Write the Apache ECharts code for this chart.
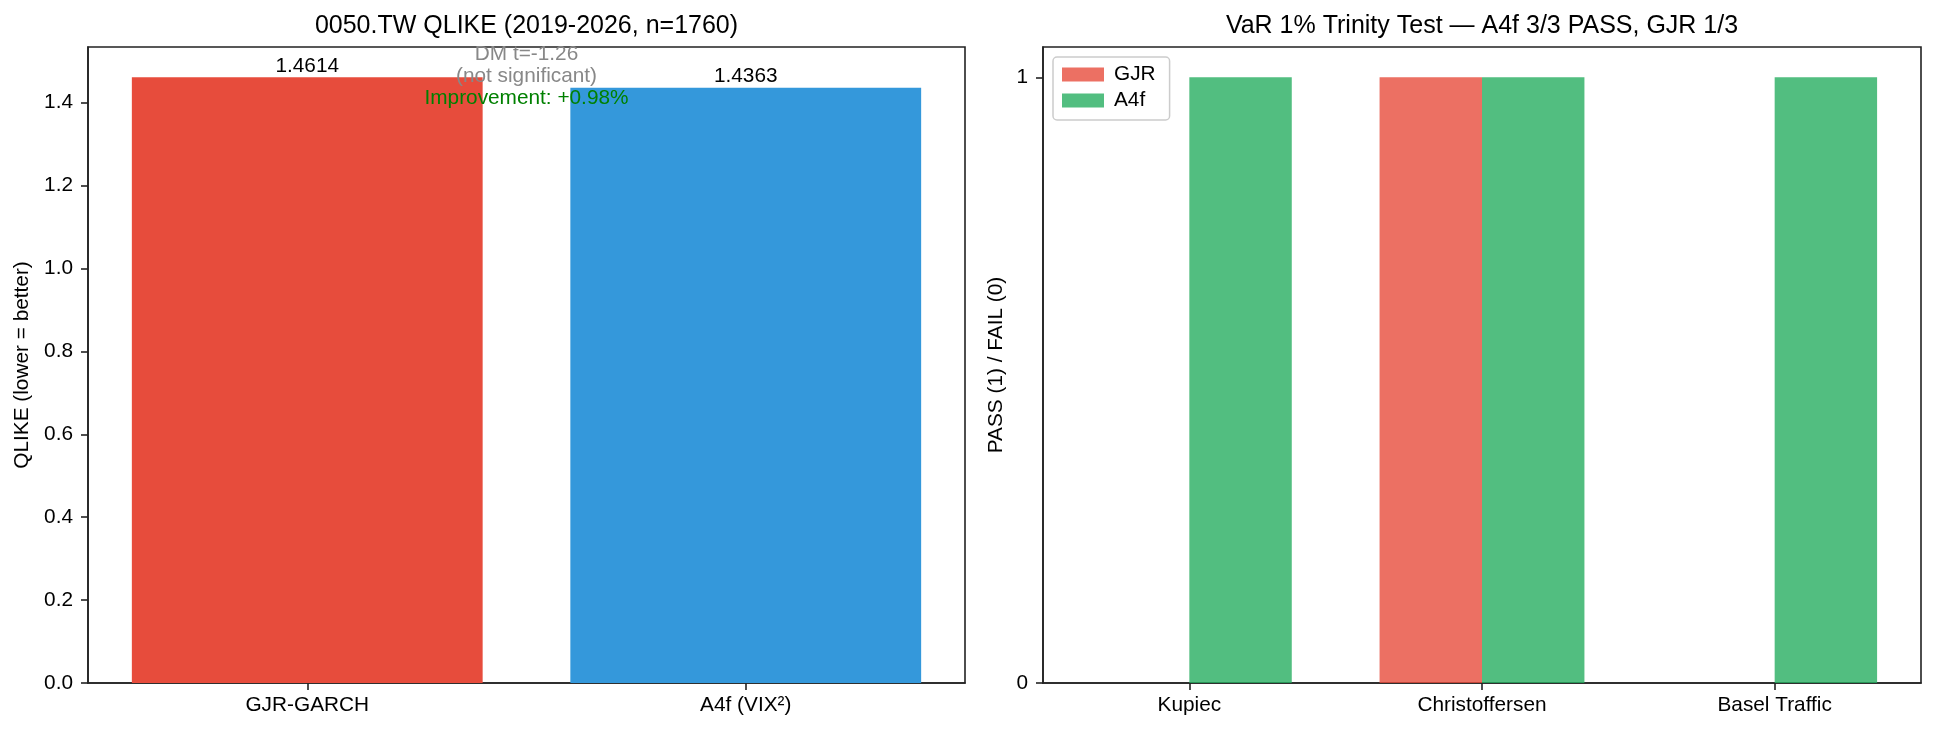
<!DOCTYPE html>
<html>
<head>
<meta charset="utf-8">
<script src="https://cdn.jsdelivr.net/npm/echarts@6/dist/echarts.min.js"></script>
<style>
  html, body { margin: 0; padding: 0; background: #fff; }
  #chart { width: 1933px; height: 733px; }
</style>
</head>
<body>
<div id="chart"></div>
<script>
// --- data ---
const qlikeModels = ['GJR-GARCH', 'A4f (VIX²)'];
const qlikeValues = [1.4614, 1.4363];
const qlikeColors = ['#e74c3c', '#3498db'];
const qlikeTicks  = [0, 0.2, 0.4, 0.6, 0.8, 1.0, 1.2, 1.4];
const qlikeMax    = 1.5345;

const varTests    = ['Kupiec', 'Christoffersen', 'Basel Traffic'];
const gjrPass     = [0, 1, 0];
const a4fPass     = [1, 1, 1];
const passTicks   = [0, 1];
const passMax     = 1.05;

// annotation lines (placed between the two QLIKE bars)
const dmNote      = 'DM t=-1.26\n(not significant)';
const dmNoteY     = 1.49;
const improveNote = 'Improvement: +0.98%';
const improveY    = 1.412;

const FONT = "'Liberation Sans', Arial, Helvetica, sans-serif";
const FS = 20.8;
const INK = '#222';

const chart = echarts.init(document.getElementById('chart'), null, { renderer: 'canvas' });

const grids = [
  { left: 88,   top: 47, width: 877, height: 636 },
  { left: 1043, top: 47, width: 878, height: 636 },
];

const axisLine  = { show: true, onZero: false, lineStyle: { color: INK, width: 1.6 } };
const axisTick  = { show: true, length: 7, lineStyle: { color: INK, width: 1.6 } };
const tickLabel = { color: '#000', fontSize: FS, fontFamily: FONT };

const catAxis = (gridIndex, data) => ({
  type: 'category',
  gridIndex,
  data,
  axisLine,
  axisTick: { ...axisTick, alignWithLabel: true },
  axisLabel: { ...tickLabel, margin: 12, interval: 0 },
  splitLine: { show: false },
});

const valAxis = (gridIndex, max, ticks, name, nameGap, fmt) => ({
  type: 'value',
  gridIndex,
  min: 0,
  max,
  name,
  nameLocation: 'middle',
  nameGap,
  nameTextStyle: { color: '#000', fontSize: FS, fontFamily: FONT },
  axisLine,
  axisTick: { ...axisTick, customValues: ticks },
  axisLabel: { ...tickLabel, margin: 15, customValues: ticks, formatter: fmt },
  splitLine: { show: false },
});

chart.setOption({
  animation: false,
  backgroundColor: '#fff',
  textStyle: { fontFamily: FONT },
  title: [
    {
      text: '0050.TW QLIKE (2019-2026, n=1760)',
      left: grids[0].left + grids[0].width / 2,
      top: 14,
      textAlign: 'center',
      padding: 0,
      textStyle: { color: '#000', fontSize: 25, fontWeight: 'normal', fontFamily: FONT },
    },
    {
      text: 'VaR 1% Trinity Test — A4f 3/3 PASS, GJR 1/3',
      left: grids[1].left + grids[1].width / 2,
      top: 14,
      textAlign: 'center',
      padding: 0,
      textStyle: { color: '#000', fontSize: 25, fontWeight: 'normal', fontFamily: FONT },
    },
  ],
  legend: {
    data: ['GJR', 'A4f'],
    orient: 'vertical',
    left: 1053,
    top: 57,
    padding: [7, 14, 9, 9],
    itemWidth: 42,
    itemHeight: 14,
    itemGap: 5,
    itemStyle: { borderWidth: 0 },
    icon: 'rect',
    borderColor: '#cccccc',
    borderWidth: 1.5,
    borderRadius: 4,
    backgroundColor: 'rgba(255,255,255,0.8)',
    textStyle: { color: '#000', fontSize: FS, fontFamily: FONT, padding: [0, 0, 0, 5] },
  },
  grid: grids.map(g => ({ ...g, show: true, borderColor: INK, borderWidth: 1.6, backgroundColor: 'transparent' })),
  xAxis: [catAxis(0, qlikeModels), catAxis(1, varTests)],
  yAxis: [
    valAxis(0, qlikeMax, qlikeTicks, 'QLIKE (lower = better)', 55, v => v.toFixed(1)),
    valAxis(1, passMax, passTicks, 'PASS (1) / FAIL (0)', 36, v => String(v)),
  ],
  series: [
    {
      type: 'bar',
      xAxisIndex: 0,
      yAxisIndex: 0,
      barWidth: '80%',
      data: qlikeValues.map((v, i) => ({ value: v, itemStyle: { color: qlikeColors[i] } })),
      label: {
        show: true,
        position: 'top',
        distance: 1,
        color: '#000',
        fontSize: FS,
        fontFamily: FONT,
        formatter: p => p.value.toFixed(4),
      },
      emphasis: { disabled: true },
    },
    {
      name: 'GJR',
      type: 'bar',
      xAxisIndex: 1,
      yAxisIndex: 1,
      barWidth: '35%',
      barGap: '0%',
      data: gjrPass,
      itemStyle: { color: 'rgba(231,76,60,0.8)' },
      emphasis: { disabled: true },
    },
    {
      name: 'A4f',
      type: 'bar',
      xAxisIndex: 1,
      yAxisIndex: 1,
      barWidth: '35%',
      barGap: '0%',
      data: a4fPass,
      itemStyle: { color: 'rgba(39,174,96,0.8)' },
      emphasis: { disabled: true },
    },
  ],
});

// annotation sits half way between the two bars, placed through the axes
const p0 = chart.convertToPixel({ gridIndex: 0 }, [qlikeModels[0], dmNoteY]);
const p1 = chart.convertToPixel({ gridIndex: 0 }, [qlikeModels[1], improveY]);
const midX = (p0[0] + p1[0]) / 2;

chart.setOption({
  graphic: [
    {
      type: 'text',
      x: midX,
      y: p0[1],
      z: 100,
      style: {
        text: dmNote,
        fill: '#888888',
        font: `${FS}px ${FONT}`,
        align: 'center',
        verticalAlign: 'middle',
        lineHeight: 22,
      },
    },
    {
      type: 'text',
      x: midX,
      y: p1[1],
      z: 100,
      style: {
        text: improveNote,
        fill: '#008000',
        font: `${FS}px ${FONT}`,
        align: 'center',
        verticalAlign: 'middle',
      },
    },
  ],
});
</script>
</body>
</html>
